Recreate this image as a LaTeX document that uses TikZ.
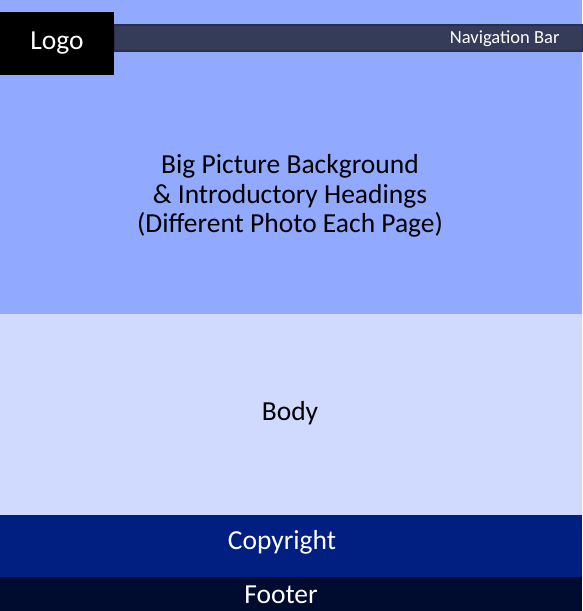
\documentclass[tikz,border=0pt]{standalone}
\usepackage{fontspec}
\setmainfont{Carlito}
\definecolor{hero}{HTML}{91A9FE}
\definecolor{bodyc}{HTML}{CFDAFE}
\definecolor{copyc}{HTML}{001F80}
\definecolor{footc}{HTML}{000B30}
\definecolor{navc}{HTML}{353C5A}
\definecolor{navb}{HTML}{2A2F47}
\tikzset{
  region/.style={draw=none, inner sep=0pt},
  big/.style={font=\fontsize{27.5}{29.5}\selectfont, align=center},
}
\begin{document}
\begin{tikzpicture}[x=1pt,y=-1pt]
\useasboundingbox (0,0) rectangle (582,611);
\fill[hero] (0,0) rectangle (582,314);
\fill[bodyc] (0,314) rectangle (582,515);
\fill[copyc] (0,515) rectangle (582,577);
\fill[footc] (0,577) rectangle (582,611);
\draw[navb, fill=navc, line width=1.5pt] (114,25) rectangle (583,51);
\fill[black] (0,12) rectangle (114,75);
\node[big, text=white] (logo) at (57,43) {Logo};
\node[anchor=east, text=white, font=\fontsize{18.5}{22}\selectfont] (nav) at (563,39) {Navigation Bar};
\node[big, text=black] (hero) at (290,196) {Big Picture Background\\\& Introductory Headings\\(Different Photo Each Page)};
\node[big, text=black] (body) at (290,413) {Body};
\node[big, text=white] (copy) at (282,542) {Copyright};
\node[big, text=white] (foot) at (281,595) {Footer};
\end{tikzpicture}
\end{document}
